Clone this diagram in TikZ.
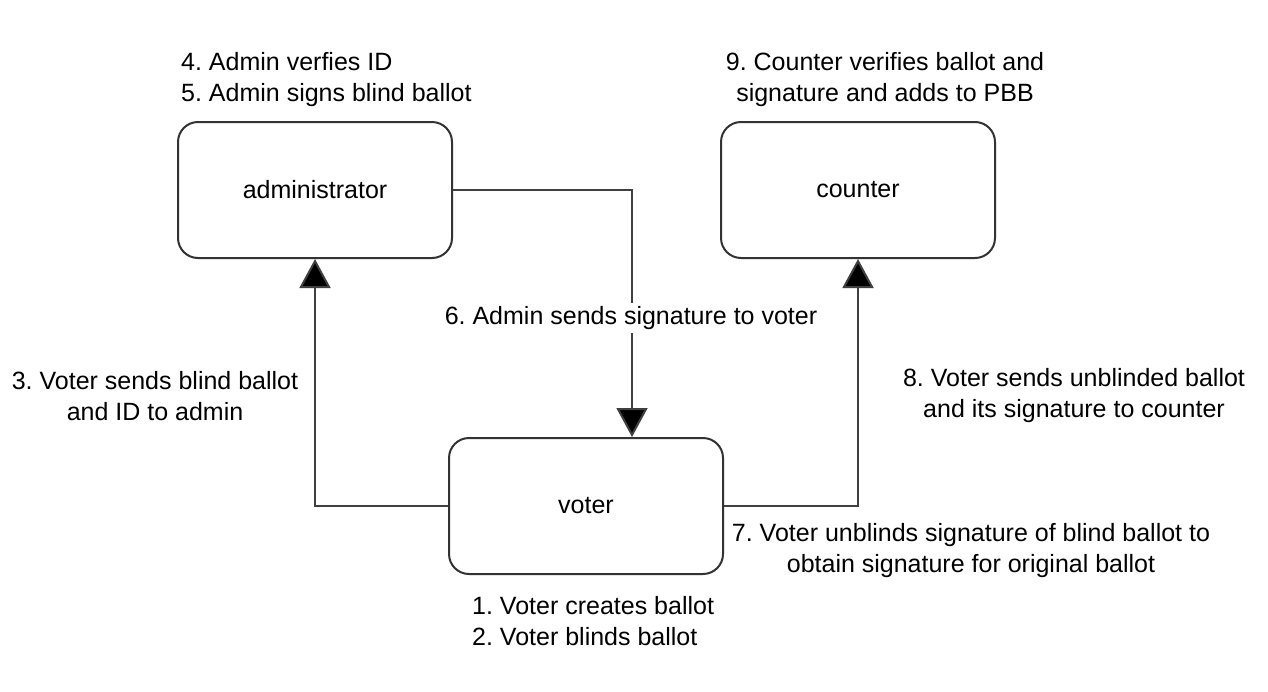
\documentclass[tikz,border=0pt]{standalone}
\usepackage{fontspec}
\setmainfont{Liberation Sans}
\usetikzlibrary{arrows.meta}
\frenchspacing
\begin{document}
\begin{tikzpicture}[x=1pt,y=-1pt,
 box/.style={draw=black!80, line width=2pt, rounded corners=20pt, minimum width=274pt, minimum height=136pt, inner sep=0pt, font=\fontsize{25}{31}\selectfont},
 conn/.style={draw=black!75, line width=2pt, -{Triangle[width=31pt,length=29pt,fill=black]}},
 lbl/.style={font=\fontsize{25}{31}\selectfont, inner sep=0pt, align=center}]
\useasboundingbox (0,0) rectangle (1268,691);
\node[box] (admin) at (315,190) {administrator};
\node[box] (counter) at (858,190) {counter};
\node[box] (voter) at (586,506) {voter};
\coordinate (vin) at ([xshift=46pt]voter.north);
\draw[conn] (voter.west) -| (admin.south);
\draw[conn] (admin.east) -| (vin);
\draw[conn] (voter.east) -| (counter.south);
\node[lbl, align=left, anchor=west] (t45) at (181,80) {4. Admin verfies ID\\5. Admin signs blind ballot};
\node[lbl] (t9) at (885,80) {9. Counter verifies ballot and\\signature and adds to PBB};
\node[lbl, fill=white, inner sep=3pt] (t6) at (631,318) {6. Admin sends signature to voter};
\node[lbl] (t3) at (155,396) {3. Voter sends blind ballot\\and ID to admin};
\node[lbl] (t8) at (1074,396) {8. Voter sends unblinded ballot\\and its signature to counter};
\node[lbl] (t7) at (971,551) {7. Voter unblinds signature of blind ballot to\\obtain signature for original ballot};
\node[lbl, align=left, anchor=west] (t12) at (472,621) {1. Voter creates ballot\\2. Voter blinds ballot};
\end{tikzpicture}
\end{document}
